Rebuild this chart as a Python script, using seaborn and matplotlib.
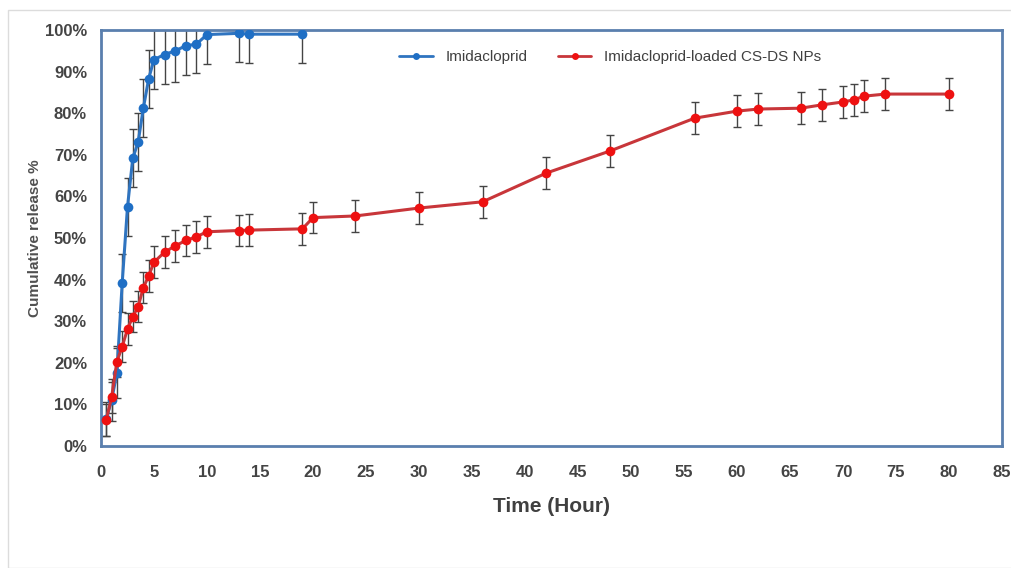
import matplotlib
matplotlib.use("Agg")
import matplotlib.pyplot as plt
import seaborn as sns
import pandas as pd
from matplotlib.patches import Rectangle
from matplotlib.ticker import FuncFormatter
from matplotlib.lines import Line2D

# ---- data ----
t_imi = [0.5, 1, 1.5, 2, 2.5, 3, 3.5, 4, 4.5, 5, 6, 7, 8, 9, 10, 13, 14, 19]
y_imi = [6.5, 11.0, 17.5, 39.2, 57.5, 69.2, 73.0, 81.3, 88.3, 92.9, 94.1, 95.0, 96.2, 96.6, 98.9, 99.2, 99.0, 99.0]
e_imi = [4.0, 5.0, 6.0, 7.0, 7.0, 7.0, 7.0, 7.0, 7.0, 7.0, 7.0, 7.5, 7.0, 7.0, 7.0, 7.0, 7.0, 7.0]

t_np = [0.5, 1, 1.5, 2, 2.5, 3, 3.5, 4, 4.5, 5, 6, 7, 8, 9, 10, 13, 14, 19, 20,
        24, 30, 36, 42, 48, 56, 60, 62, 66, 68, 70, 71, 72, 74, 80]
y_np = [6.3, 11.7, 20.3, 23.9, 28.1, 31.1, 33.5, 38.1, 40.9, 44.2, 46.6, 48.1, 49.4, 50.3,
        51.5, 51.8, 51.9, 52.2, 54.9, 55.3, 57.2, 58.7, 65.6, 70.9, 78.8, 80.5, 81.0,
        81.2, 82.0, 82.7, 83.2, 84.1, 84.6, 84.6]
e_np = [3.8] * len(t_np)

series_names = ["Imidacloprid", "Imidacloprid-loaded CS-DS NPs"]
x_ticks = list(range(0, 90, 5))
y_ticks = list(range(0, 110, 10))

df = pd.concat([
    pd.DataFrame({"t": t_imi, "y": y_imi, "e": e_imi, "s": series_names[0]}),
    pd.DataFrame({"t": t_np, "y": y_np, "e": e_np, "s": series_names[1]}),
])

sns.set_theme(style="white")
plt.rcParams["font.family"] = ["Liberation Sans", "DejaVu Sans"]

fig = plt.figure(figsize=(10.12, 5.68), dpi=100)
ax = fig.add_axes([101 / 1012, 1 - 446 / 568, (1002 - 101) / 1012, (446 - 30) / 568])

line_cols = {series_names[0]: "#2f74c0", series_names[1]: "#c8363a"}
mark_cols = {series_names[0]: "#1f6fc5", series_names[1]: "#ee1111"}

for name in series_names:
    d = df[df.s == name]
    ax.errorbar(d.t, d.y, yerr=d.e, fmt="none", ecolor="#444444", elinewidth=1.0,
                capsize=3, capthick=1.0, zorder=2)

sns.lineplot(data=df, x="t", y="y", hue="s", palette=line_cols, ax=ax,
             linewidth=2.2, marker="o", markersize=7, markeredgewidth=0,
             legend=False, zorder=3, sort=False, estimator=None)
for ln, name in zip(ax.get_lines()[-2:], series_names):
    ln.set_markerfacecolor(mark_cols[name])
    ln.set_markeredgecolor(mark_cols[name])

ax.set_xlim(0, 85)
ax.set_ylim(0, 100)
ax.set_xticks(x_ticks)
ax.set_yticks(y_ticks)
ax.yaxis.set_major_formatter(FuncFormatter(lambda v, p: f"{int(v)}%"))
ax.tick_params(axis="x", length=0, labelsize=12, labelcolor="#444444", pad=14)
ax.tick_params(axis="y", length=0, labelsize=12, labelcolor="#444444", pad=10)
for lab in ax.get_xticklabels() + ax.get_yticklabels():
    lab.set_fontweight("bold")

ax.set_xlabel("Time (Hour)", fontsize=15, fontweight="bold", color="#404040", labelpad=12)
ax.set_ylabel("Cumulative release %", fontsize=11, fontweight="bold", color="#505050", labelpad=2)

for sp in ax.spines.values():
    sp.set_visible(True)
    sp.set_color("#5a7fae")
    sp.set_linewidth(2)

handles = [Line2D([], [], color=line_cols[n], lw=2, marker="o", markersize=5,
                  markerfacecolor=mark_cols[n], markeredgewidth=0) for n in series_names]
ax.legend(handles, series_names, loc="upper center", bbox_to_anchor=(0.565, 0.985),
          ncol=2, frameon=False, fontsize=11, handlelength=2.2, columnspacing=2.0,
          labelcolor="#404040")

fig.patches.append(Rectangle((8 / 1012, 0), 1.2, 1 - 10 / 568, transform=fig.transFigure,
                             fill=False, edgecolor="#dcdcdc", linewidth=1, zorder=0))

fig.savefig("out.png", dpi=100, facecolor="white")
